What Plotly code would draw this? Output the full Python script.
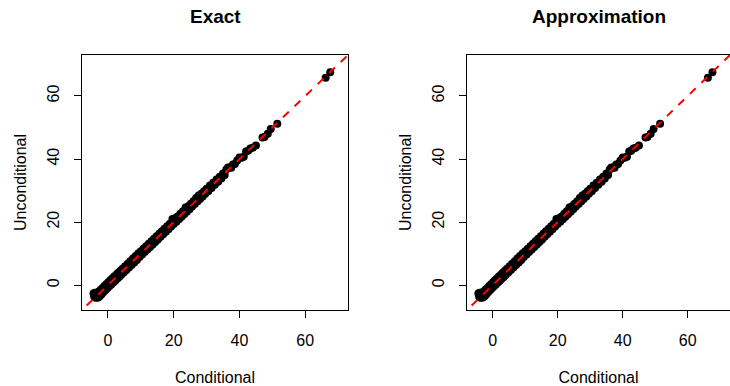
import plotly.graph_objects as go
from plotly.subplots import make_subplots

# ---- data ----
conditional = [-4.4, -4.2, -4.0, -3.9, -3.7, -3.5, -3.3, -3.0, -2.8, -2.5, -2.2, -2.0, -1.7, -1.4,
               -1.1, -0.8, -0.5, -0.2, 0.1, 0.4, 0.7, 1.0, 1.3, 1.6, 1.9, 2.2, 2.5, 2.8, 3.1, 3.4,
               3.7, 4.0, 4.4, 4.8, 5.2, 5.6, 6.0, 6.4, 6.8, 7.2, 7.6, 8.0, 8.4, 8.8, 9.2, 9.6,
               10.0, 10.4, 10.8, 11.2, 11.6, 12.0, 12.4, 12.8, 13.2, 13.6, 14.0, 14.4, 14.8, 15.2,
               15.6, 16.0, 16.4, 16.8, 17.2, 17.6, 18.0, 18.4, 18.8, 19.2, 19.6, 20.0, 20.4, 20.8,
               21.2, 21.6, 22.0, 22.4, 22.8, 23.2, 23.6, 24.0, 24.4, 24.8, 25.2, 25.6, 26.0, 26.4,
               26.8, 27.2, 27.6, 28.0, 28.4, 28.8, 29.2, 29.6, 30.0, 30.5, 31.0, 31.5, 32.0, 32.5,
               33.0, 33.5, 34.0, 34.5, 35.0, 35.5, 36.0, 36.5, 37.0, 37.5, 38.0, 38.6, 39.3, 40.0,
               40.6, 41.3, 42.0, 42.6, 43.3, 44.0, 45.0, 47.0, 47.6, 48.6, 49.5, 51.5, 66.2, 67.6]

unconditional_exact = [-2.7, -3.6, -2.4, -3.9, -3.0, -4.0, -2.4, -3.9, -2.0, -3.5, -1.5, -3.0, -1.0, -2.3,
                       -0.3, -1.6, 0.3, -1.0, 0.9, -0.4, 1.5, 0.2, 2.1, 0.8, 2.7, 1.4, 3.3, 2.0, 3.9, 2.6,
                       4.5, 3.2, 5.2, 4.0, 6.0, 4.8, 6.8, 5.6, 7.6, 6.4, 8.4, 7.2, 9.2, 8.0, 10.0, 8.9,
                       10.7, 9.7, 11.5, 10.5, 12.3, 11.3, 13.1, 12.1, 13.9, 12.9, 14.7, 13.7, 15.5, 14.5,
                       16.3, 15.3, 17.1, 16.1, 17.9, 16.9, 18.7, 17.7, 19.5, 18.6, 21.0, 19.4, 21.2, 20.1,
                       21.8, 20.9, 22.6, 21.7, 23.4, 22.5, 24.6, 23.3, 25.0, 24.1, 25.8, 24.9, 26.6, 25.7,
                       27.6, 26.5, 28.4, 27.3, 29.0, 28.1, 29.8, 29.0, 30.6, 29.8, 31.6, 30.8, 32.5, 31.8,
                       33.5, 32.8, 34.4, 33.8, 35.4, 34.9, 36.7, 37.3, 37.3, 37.2, 38.3, 38.4, 39.5, 40.5,
                       40.4, 40.7, 42.4, 42.6, 43.3, 43.6, 44.3, 46.8, 47.0, 48.0, 49.5, 51.2, 65.8, 67.5]

unconditional_approx = [-2.7, -3.6, -2.4, -3.9, -3.0, -4.0, -2.4, -3.9, -2.0, -3.5, -1.5, -3.0, -1.0, -2.3,
                        -0.3, -1.6, 0.3, -1.0, 0.9, -0.4, 1.5, 0.2, 2.1, 0.8, 2.7, 1.4, 3.3, 2.0, 3.9, 2.6,
                        4.5, 3.2, 5.2, 4.0, 6.0, 4.8, 6.8, 5.6, 7.6, 6.4, 8.4, 7.2, 9.2, 8.0, 10.0, 8.9,
                        10.7, 9.7, 11.5, 10.5, 12.3, 11.3, 13.1, 12.1, 13.9, 12.9, 14.7, 13.7, 15.5, 14.5,
                        16.3, 15.3, 17.1, 16.1, 17.9, 16.9, 18.7, 17.7, 19.5, 18.6, 21.0, 19.4, 21.2, 20.1,
                        21.8, 20.9, 22.6, 21.7, 23.4, 22.5, 24.6, 23.3, 25.0, 24.1, 25.8, 24.9, 26.6, 25.7,
                        27.6, 26.5, 28.4, 27.3, 29.0, 28.1, 29.8, 29.0, 30.6, 29.8, 31.6, 30.8, 32.5, 31.8,
                        33.5, 32.8, 34.4, 33.8, 35.4, 34.9, 36.7, 37.3, 37.3, 37.2, 38.3, 38.4, 39.5, 40.5,
                        40.4, 40.7, 42.4, 42.6, 43.3, 43.6, 44.3, 46.8, 47.0, 48.0, 49.5, 51.2, 65.8, 67.5]

panel_titles = ["Exact", "Approximation"]
tick_values = [0, 20, 40, 60]
axis_range = [-7.9, 73.0]
identity_line = [-10, 80]

FONT = "Liberation Sans, Arial, Helvetica, sans-serif"

W, H = 730, 386


def px_x(p):
    return p / W


def px_y(p):
    return (H - p) / H


fig = make_subplots(rows=1, cols=2)

for col, yvals in enumerate([unconditional_exact, unconditional_approx], start=1):
    fig.add_trace(go.Scatter(x=conditional, y=yvals, mode="markers",
                             marker=dict(color="black", size=8, line=dict(width=0)),
                             showlegend=False, hoverinfo="skip"), row=1, col=col)
    fig.add_trace(go.Scatter(x=identity_line, y=identity_line, mode="lines",
                             line=dict(color="red", width=2, dash="8px,8px"),
                             showlegend=False, hoverinfo="skip"), row=1, col=col)

x_domains = [[px_x(82), px_x(348)], [px_x(467), 1.0]]
y_domain = [px_y(310), px_y(55)]

axis_common = dict(range=axis_range, tickmode="array", tickvals=tick_values,
                   ticks="outside", ticklen=7, tickwidth=1, tickcolor="black",
                   showline=True, mirror=True, linecolor="black", linewidth=1,
                   showgrid=False, zeroline=False,
                   tickfont=dict(family=FONT, size=16, color="black"))

for i in range(2):
    xa = "xaxis" if i == 0 else "xaxis2"
    ya = "yaxis" if i == 0 else "yaxis2"
    fig.update_layout(**{
        xa: dict(axis_common, domain=x_domains[i], ticklabelstandoff=9,
                 title=dict(text="Conditional", font=dict(family=FONT, size=16, color="black"),
                            standoff=24)),
        ya: dict(axis_common, domain=y_domain, tickangle=-90, ticklabelstandoff=9,
                 title=dict(text="Unconditional", font=dict(family=FONT, size=16, color="black"),
                            standoff=13)),
    })

annotations = []
for i, t in enumerate(panel_titles):
    cx = (x_domains[i][0] + x_domains[i][1]) / 2
    annotations.append(dict(text="<b>%s</b>" % t, x=cx, y=px_y(16),
                            xref="paper", yref="paper", xanchor="center", yanchor="middle",
                            showarrow=False, font=dict(family=FONT, size=19, color="black")))

fig.update_layout(width=W, height=H, margin=dict(l=0, r=0, t=0, b=0),
                  paper_bgcolor="white", plot_bgcolor="white",
                  annotations=annotations, font=dict(family=FONT))

# remove the default 8px page margin so the figure fills the window exactly
fig.write_html("out.html", config={"displayModeBar": False},
               post_script="document.body.style.margin='0';")
